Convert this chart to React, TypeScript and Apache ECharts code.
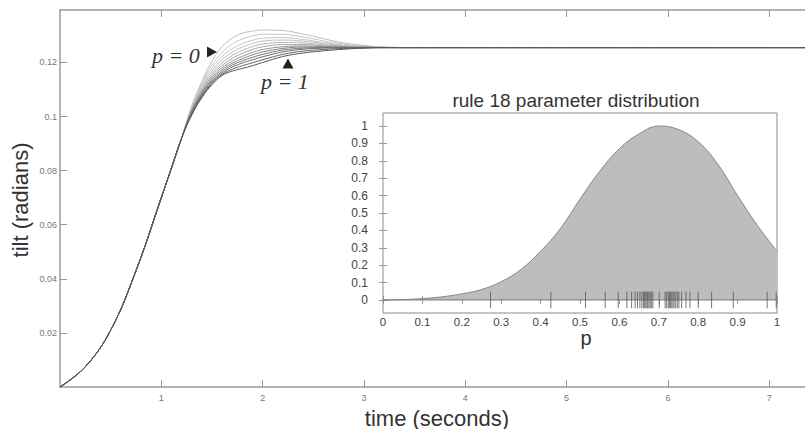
import React, { useEffect, useRef } from "react";
import * as echarts from "echarts";

// ---------- main chart data: tilt (radians) vs time (seconds) ----------
const riseTimes = [0, 0.25, 0.5, 0.75, 1.0, 1.1, 1.2];
const riseValues = [0, 0.0075, 0.021, 0.043, 0.07, 0.081, 0.092];
const spreadTimes = [1.3, 1.4, 1.5, 1.6, 1.7, 1.8, 1.9, 2.0, 2.2, 2.4, 2.6, 2.8, 3.0, 3.2];
const settleTimes = [3.5, 4, 5, 6, 7, 7.55];
const settleValues = [0.1255, 0.1255, 0.1255, 0.1255, 0.1255, 0.1255];

const curveP00 = [0.104, 0.113, 0.1205, 0.1258, 0.129, 0.1308, 0.1316, 0.132, 0.1318, 0.1305, 0.1288, 0.1272, 0.1263, 0.1257];
const curveP01 = [0.1036, 0.1122, 0.119, 0.1238, 0.1268, 0.1287, 0.1298, 0.1304, 0.1304, 0.1294, 0.128, 0.1268, 0.126, 0.1256];
const curveP02 = [0.1033, 0.1115, 0.1178, 0.1222, 0.1251, 0.127, 0.1282, 0.129, 0.1292, 0.1285, 0.1274, 0.1264, 0.1259, 0.1256];
const curveP03 = [0.103, 0.1108, 0.1168, 0.121, 0.1238, 0.1257, 0.127, 0.1279, 0.1283, 0.1279, 0.127, 0.1262, 0.1258, 0.1256];
const curveP04 = [0.1027, 0.1102, 0.1159, 0.1199, 0.1226, 0.1245, 0.1259, 0.1268, 0.1274, 0.1272, 0.1266, 0.126, 0.1257, 0.1256];
const curveP05 = [0.1024, 0.1096, 0.1151, 0.1189, 0.1215, 0.1234, 0.1248, 0.1258, 0.1266, 0.1266, 0.1262, 0.1259, 0.1257, 0.1255];
const curveP06 = [0.1021, 0.1091, 0.1144, 0.1181, 0.1205, 0.1223, 0.1237, 0.1248, 0.1258, 0.1261, 0.1259, 0.1257, 0.1256, 0.1255];
const curveP07 = [0.1018, 0.1086, 0.1138, 0.1174, 0.1197, 0.1214, 0.1228, 0.1239, 0.1252, 0.1257, 0.1257, 0.1256, 0.1255, 0.1255];
const curveP08 = [0.1015, 0.1082, 0.1132, 0.1167, 0.119, 0.1206, 0.1219, 0.123, 0.1246, 0.1253, 0.1255, 0.1255, 0.1255, 0.1255];
const curveP09 = [0.1012, 0.1078, 0.1127, 0.1161, 0.1183, 0.1198, 0.121, 0.1221, 0.1239, 0.1249, 0.1253, 0.1254, 0.1255, 0.1255];
const curveP10 = [0.1008, 0.1074, 0.1122, 0.1156, 0.1175, 0.1188, 0.1199, 0.121, 0.123, 0.1242, 0.1248, 0.1252, 0.1254, 0.1255];
const curveP11 = [0.1005, 0.107, 0.1118, 0.1152, 0.1168, 0.1178, 0.1188, 0.12, 0.1222, 0.1235, 0.1243, 0.1249, 0.1253, 0.1255];

const mainXTicks = [1, 2, 3, 4, 5, 6, 7];
const mainYTicks = [0.02, 0.04, 0.06, 0.08, 0.1, 0.12];

// ---------- inset data: rule 18 parameter distribution ----------
const distP = [0, 0.05, 0.1, 0.15, 0.2, 0.25, 0.3, 0.35, 0.4, 0.45, 0.5, 0.55, 0.6, 0.65, 0.7, 0.75, 0.8, 0.85, 0.9, 0.95, 1.0];
const distValues = [0, 0.002, 0.008, 0.018, 0.035, 0.06, 0.105, 0.175, 0.28, 0.41, 0.58, 0.74, 0.87, 0.955, 1.0, 0.98, 0.91, 0.78, 0.6, 0.43, 0.28];
const rugValues = [
  0.273, 0.426, 0.514, 0.564, 0.597, 0.619, 0.631, 0.64, 0.646, 0.652, 0.657, 0.661, 0.664, 0.667,
  0.67, 0.672, 0.675, 0.678, 0.681, 0.685, 0.701, 0.716, 0.72, 0.724, 0.727, 0.73, 0.733, 0.736,
  0.739, 0.743, 0.747, 0.751, 0.758, 0.769, 0.779, 0.8, 0.834, 0.889, 0.975, 0.998,
];
const insetTicks = [0, 0.1, 0.2, 0.3, 0.4, 0.5, 0.6, 0.7, 0.8, 0.9, 1];

const curves = [curveP00, curveP01, curveP02, curveP03, curveP04, curveP05, curveP06, curveP07, curveP08, curveP09, curveP10, curveP11];
const curveColors = ["#bdbdbd", "#c6c6c6", "#c6c6c6", "#bebebe", "#b2b2b2", "#a4a4a4", "#939393", "#838383", "#767676", "#6c6c6c", "#626262", "#575757"];

const SANS = "Liberation Sans, Arial, sans-serif";
const MAIN_AXIS = { show: true, onZero: false, lineStyle: { color: "#9a9a9a", width: 1.5 } };

export default function App() {
  const ref = useRef<HTMLDivElement>(null);
  useEffect(() => {
    if (!ref.current) return;
    const chart = echarts.init(ref.current, null, { renderer: "svg" });
    const times = [...riseTimes, ...spreadTimes, ...settleTimes];

    const mainSeries: any[] = curves.map((c, idx) => {
      const vals = [...riseValues, ...c, ...settleValues];
      return {
        type: "line",
        xAxisIndex: 0,
        yAxisIndex: 0,
        data: times.map((t, i) => [t, vals[i]]),
        smooth: 0.4,
        symbol: "none",
        lineStyle: { color: curveColors[idx], width: 1 },
        z: 2,
      };
    });

    mainSeries[mainSeries.length - 1].markPoint = {
      silent: true,
      data: [
        {
          coord: [1.5, 0.1239],
          symbol: "path://M0,0 L10,5 L0,10 Z",
          symbolSize: [10, 11],
          itemStyle: { color: "#222" },
          label: { show: false },
        },
        {
          coord: [2.25, 0.1196],
          symbol: "path://M5,0 L10,10 L0,10 Z",
          symbolSize: [11, 10],
          itemStyle: { color: "#222" },
          label: { show: false },
        },
        {
          coord: [1.144, 0.1224],
          symbol: "circle",
          symbolSize: 1,
          itemStyle: { color: "rgba(0,0,0,0)" },
          label: { show: true, position: "inside", formatter: "p = 0", fontFamily: "Liberation Serif, serif", fontStyle: "italic", fontSize: 22, color: "#333" },
        },
        {
          coord: [2.22, 0.1128],
          symbol: "circle",
          symbolSize: 1,
          itemStyle: { color: "rgba(0,0,0,0)" },
          label: { show: true, position: "inside", formatter: "p = 1", fontFamily: "Liberation Serif, serif", fontStyle: "italic", fontSize: 22, color: "#333" },
        },
      ],
    };

    const option: any = {
      animation: false,
      backgroundColor: "#fff",
      textStyle: { fontFamily: SANS },
      grid: [
        { left: 60, top: 10, width: 765, height: 377, show: false, outerBoundsMode: "none", containLabel: false },
        { left: 383, top: 113, width: 394, height: 200, show: true, borderColor: "#8a8a8a", borderWidth: 1, backgroundColor: "#fff", outerBoundsMode: "none" },
      ],
      xAxis: [
        {
          gridIndex: 0, type: "value", min: 0, max: 7.55,
          axisLine: MAIN_AXIS,
          axisTick: { show: true, inside: true, length: 7, customValues: mainXTicks, lineStyle: { color: "#999" } },
          axisLabel: { customValues: mainXTicks, fontSize: 9, color: "#777", margin: 6, fontFamily: SANS },
          splitLine: { show: false },
        },
        {
          gridIndex: 0, type: "value", position: "top", min: 0, max: 7.55,
          axisLine: MAIN_AXIS,
          axisTick: { show: true, inside: true, length: 7, customValues: mainXTicks, lineStyle: { color: "#999" } },
          axisLabel: { show: false },
          splitLine: { show: false },
        },
        {
          gridIndex: 1, type: "value", min: 0, max: 1, interval: 0.1,
          axisLine: { show: false },
          axisTick: { show: true, inside: true, length: 4, lineStyle: { color: "#999" } },
          axisLabel: { fontSize: 11.5, lineHeight: 12, color: "#444", margin: 3, fontFamily: SANS },
          splitLine: { show: false },
        },
        {
          gridIndex: 1, type: "value", position: "top", min: 0, max: 1, interval: 0.1,
          axisLine: { show: false },
          axisTick: { show: true, inside: true, length: 4, lineStyle: { color: "#999" } },
          axisLabel: { show: false },
          splitLine: { show: false },
        },
      ],
      yAxis: [
        {
          gridIndex: 0, type: "value", min: 0, max: 0.1394,
          axisLine: MAIN_AXIS,
          axisTick: { show: true, inside: true, length: 7, customValues: mainYTicks, lineStyle: { color: "#999" } },
          axisLabel: { customValues: mainYTicks, fontSize: 9, color: "#777", margin: 3, fontFamily: SANS },
          splitLine: { show: false },
        },
        {
          gridIndex: 1, type: "value", min: -0.075, max: 1.075,
          axisLine: { show: false },
          axisTick: { show: true, inside: true, length: 4, customValues: insetTicks, lineStyle: { color: "#999" } },
          axisLabel: { customValues: insetTicks, fontSize: 12, color: "#444", margin: 15, fontFamily: SANS },
          splitLine: { show: false },
        },
        {
          gridIndex: 1, type: "value", position: "right", min: -0.075, max: 1.075,
          axisLine: { show: false },
          axisTick: { show: true, inside: true, length: 4, customValues: insetTicks, lineStyle: { color: "#999" } },
          axisLabel: { show: false },
          splitLine: { show: false },
        },
      ],
      series: [
        ...mainSeries,
        {
          type: "line",
          xAxisIndex: 2,
          yAxisIndex: 1,
          data: distP.map((p, i) => [p, distValues[i]]),
          smooth: 0.4,
          symbol: "none",
          lineStyle: { color: "#888", width: 1 },
          areaStyle: { color: "#bdbdbd", opacity: 1 },
          z: 3,
        },
        {
          type: "line",
          xAxisIndex: 2,
          yAxisIndex: 1,
          data: [[0, 0], [1, 0]],
          symbol: "none",
          lineStyle: { color: "#777", width: 1 },
          z: 4,
        },
        {
          type: "custom",
          xAxisIndex: 2,
          yAxisIndex: 1,
          data: rugValues.map((v) => [v, 0]),
          renderItem: (params: any, api: any) => {
            const v = api.value(0);
            const a = api.coord([v, -0.048]);
            const b = api.coord([v, 0.048]);
            return {
              type: "line",
              shape: { x1: a[0], y1: a[1], x2: b[0], y2: b[1] },
              style: { stroke: "#555", lineWidth: 0.8 },
            };
          },
          z: 5,
        },
      ],
      graphic: [
        { type: "rect", z: 100, silent: true, shape: { x: 797, y: 11, width: 8, height: 34 }, style: { fill: "#fff" } },
        { type: "rect", z: 100, silent: true, shape: { x: 797, y: 51, width: 8, height: 335 }, style: { fill: "#fff" } },
        {
          type: "text", x: 20, y: 200, rotation: Math.PI / 2,
          style: { text: "tilt (radians)", fontSize: 22, fontFamily: SANS, fill: "#333", align: "center", verticalAlign: "middle" },
        },
        {
          type: "text", x: 437, y: 418,
          style: { text: "time (seconds)", fontSize: 22, fontFamily: SANS, fill: "#333", align: "center", verticalAlign: "middle" },
        },
        {
          type: "text", x: 576, y: 100,
          style: { text: "rule 18 parameter distribution", fontSize: 19, fontFamily: SANS, fill: "#333", align: "center", verticalAlign: "middle" },
        },
        {
          type: "text", x: 586, y: 338,
          style: { text: "p", fontSize: 20, lineHeight: 12, fontFamily: SANS, fill: "#333", align: "center", verticalAlign: "middle" },
        },
      ],
    };
    chart.setOption(option);
    return () => chart.dispose();
  }, []);
  return <div ref={ref} style={{ position: "fixed", left: 0, top: 0, width: 805, height: 429 }} />;
}
